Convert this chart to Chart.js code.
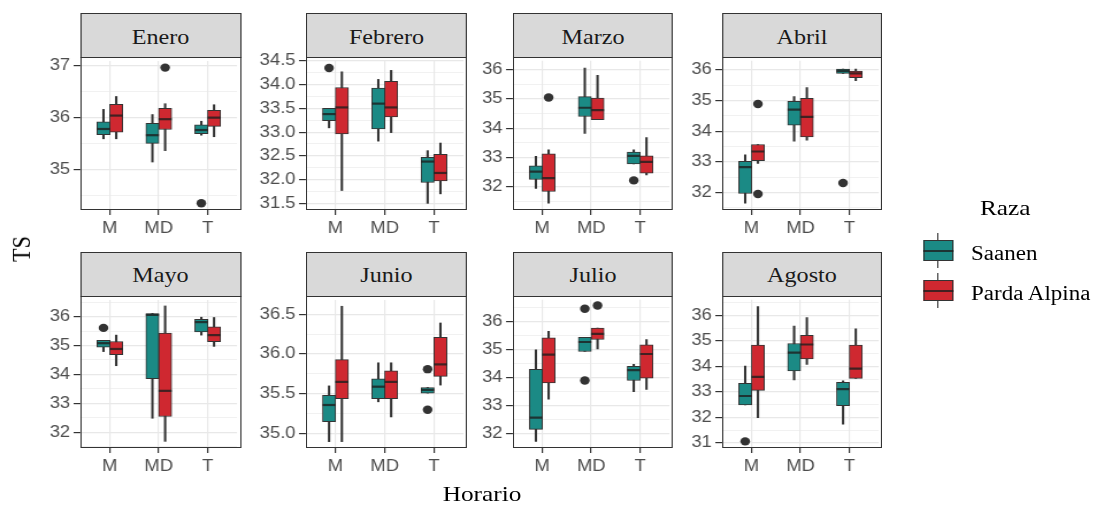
<!DOCTYPE html>
<html>
<head>
<meta charset="utf-8">
<script src="https://cdn.jsdelivr.net/npm/chart.js@4.4.0/dist/chart.umd.min.js"></script>
<style>
html,body{margin:0;padding:0;background:#fff;overflow:hidden;width:1095px;height:506px;}
#wrap{position:absolute;left:0;top:0;width:953px;height:506px;transform:scaleX(1.15);transform-origin:0 0;}
.strip{position:absolute;box-sizing:border-box;background:#d9d9d9;border:1px solid #333;}
.frame{position:absolute;box-sizing:border-box;border:1px solid #333;pointer-events:none;}
.txt{position:absolute;font-family:'Liberation Serif','Times New Roman',serif;color:#1a1a1a;white-space:nowrap;}
.blk{position:absolute;box-sizing:border-box;}
</style>
</head>
<body>
<div id="wrap"></div>
<script>
// ---------------- data ----------------
const categories = ['M', 'MD', 'T'];
const months = ['Enero', 'Febrero', 'Marzo', 'Abril', 'Mayo', 'Junio', 'Julio', 'Agosto'];
const seriesNames = ['Saanen', 'Parda Alpina'];

const yMin = [34.21, 31.36, 31.21, 31.43, 31.45, 34.82, 31.47, 30.80];
const yMax = [37.10, 34.50, 36.30, 36.30, 36.58, 36.68, 36.78, 36.61];
const yTicks = [
  [35, 36, 37],
  [31.5, 32, 32.5, 33, 33.5, 34, 34.5],
  [32, 33, 34, 35, 36],
  [32, 33, 34, 35, 36],
  [32, 33, 34, 35, 36],
  [35, 35.5, 36, 36.5],
  [32, 33, 34, 35, 36],
  [31, 32, 33, 34, 35, 36]
];
const tickDecimals = [0, 1, 0, 0, 0, 1, 0, 0];

// Saanen: per month, per horario (M, MD, T)
const saanenLow = [
  [35.59, 35.14, 35.66], [33.09, 32.81, 31.50], [31.95, 33.82, 32.78], [31.65, 33.68, 35.89],
  [34.79, 32.48, 35.36], [34.90, 35.40, 35.51], [31.71, 34.93, 33.49], [32.49, 33.47, 31.73]
];
const saanenQ1 = [
  [35.67, 35.50, 35.69], [33.24, 33.07, 31.94], [32.25, 34.40, 32.78], [31.97, 34.20, 35.89],
  [34.94, 33.85, 35.47], [35.15, 35.44, 35.51], [32.14, 34.93, 33.89], [32.49, 33.82, 32.46]
];
const saanenMedian = [
  [35.78, 35.66, 35.76], [33.38, 33.60, 32.38], [32.52, 34.70, 33.06], [32.83, 34.71, 35.97],
  [35.08, 36.06, 35.81], [35.36, 35.59, 35.55], [32.56, 35.27, 34.26], [32.84, 34.54, 33.11]
];
const saanenQ3 = [
  [35.92, 35.89, 35.86], [33.50, 33.93, 32.47], [32.72, 35.08, 33.19], [33.02, 34.98, 36.03],
  [35.18, 36.11, 35.91], [35.48, 35.69, 35.58], [34.29, 35.44, 34.40], [33.34, 34.90, 33.38]
];
const saanenHigh = [
  [36.16, 36.06, 35.93], [33.50, 34.11, 32.61], [33.04, 36.05, 33.26], [33.23, 35.13, 36.03],
  [35.18, 36.11, 35.98], [35.60, 35.89, 35.58], [34.99, 35.44, 34.47], [34.01, 35.58, 33.43]
];
// Parda Alpina
const pardaLow = [
  [35.59, 35.36, 35.63], [31.77, 32.99, 31.70], [31.44, 34.29, 32.41], [32.95, 33.71, 35.65],
  [34.30, 31.68, 34.97], [34.90, 35.21, 35.61], [33.22, 35.02, 33.57], [31.99, 34.08, 33.53]
];
const pardaQ1 = [
  [35.72, 35.77, 35.83], [32.96, 33.32, 31.97], [31.84, 34.29, 32.47], [33.04, 33.82, 35.75],
  [34.68, 32.54, 35.13], [35.44, 35.44, 35.72], [33.80, 35.36, 33.97], [33.06, 34.29, 33.53]
];
const pardaMedian = [
  [36.04, 35.97, 36.00], [33.52, 33.52, 32.14], [32.30, 34.62, 32.85], [33.34, 34.47, 35.89],
  [34.88, 33.43, 35.36], [35.65, 35.65, 35.87], [34.82, 35.56, 34.84], [33.59, 34.86, 33.91]
];
const pardaQ3 = [
  [36.26, 36.18, 36.14], [33.94, 34.07, 32.53], [33.13, 35.03, 33.06], [33.57, 35.08, 35.97],
  [35.14, 35.43, 35.65], [35.93, 35.79, 36.21], [35.42, 35.77, 35.17], [34.84, 35.22, 34.84]
];
const pardaHigh = [
  [36.41, 36.27, 36.25], [34.27, 34.30, 32.77], [33.26, 35.81, 33.68], [33.57, 35.43, 36.03],
  [35.36, 36.37, 35.97], [36.60, 35.89, 36.39], [35.65, 35.77, 35.36], [36.35, 35.91, 35.47]
];
// outliers: [horario index (1..3), value]
const saanenOutliers = [
  [[3, 34.34]], [[1, 34.35]], [[3, 32.22]], [[3, 32.31]],
  [[1, 35.61]], [[3, 35.81], [3, 35.30]], [[2, 36.46], [2, 33.89]], [[1, 31.06]]
];
const pardaOutliers = [
  [[2, 36.97]], [], [[1, 35.05]], [[1, 34.89], [1, 31.95]],
  [], [], [[2, 36.58]], []
];

// ---------------- layout / style ----------------
const SX = 1.15;
const panelLeft = [80, 306, 513, 722];
const panelRight = [241, 467, 673, 882];
const rowTop = [57, 296];
const rowBottom = [210, 448];
const stripTop = [13, 252];
const stripBaseline = [44.3, 282.4];
const COL_S = '#1b8a85';
const COL_P = '#cf2830';
const LINE = '#333333';
const MEDIAN = 'rgba(30,30,30,0.8)';
const GRID = '#e8e8e8';
const TICKTXT = '#4d4d4d';
const DODGE = 0.13, BOXW = 0.26;

Chart.defaults.font.family = "'Liberation Sans', Arial, sans-serif";
const wrap = document.getElementById('wrap');

function add(cls, css, text) {
  const d = document.createElement('div');
  d.className = cls;
  Object.assign(d.style, css);
  if (text !== undefined) d.textContent = text;
  wrap.appendChild(d);
  return d;
}

months.forEach((month, i) => {
  const col = i % 4, row = Math.floor(i / 4);
  const L = panelLeft[col] / SX, R = panelRight[col] / SX;
  const T = rowTop[row], B = rowBottom[row];
  const pw = R - L;
  const YW = 52, XH = 32, PT = 4;
  const cw = Math.ceil(pw + YW + 4);
  const PR = cw - YW - pw;
  const ch = Math.round(B - T + PT + XH);

  const canvas = document.createElement('canvas');
  canvas.width = cw; canvas.height = ch;
  canvas.style.position = 'absolute';
  canvas.style.left = (L - YW) + 'px';
  canvas.style.top = (T - PT) + 'px';
  wrap.appendChild(canvas);

  const unitPx = pw / 3.2;
  const boxPx = BOXW * unitPx;

  const majors = yTicks[i];
  const step = majors[1] - majors[0];
  const allTicks = [];
  for (let v = majors[0] - step / 2; v <= yMax[i] + 1e-9; v += step / 2) {
    if (v >= yMin[i] - 1e-9) allTicks.push(Math.round(v * 1000) / 1000);
  }
  const isMajor = v => majors.some(m => Math.abs(m - v) < 1e-6);

  const pair = (a, b, off) => categories.map((c, j) => ({ x: j + 1 + off, y: [a[i][j], b[i][j]] }));
  const medPts = categories.map((c, j) => ({ x: j + 1 - DODGE, y: saanenMedian[i][j] }))
    .concat(categories.map((c, j) => ({ x: j + 1 + DODGE, y: pardaMedian[i][j] })));
  const outPts = saanenOutliers[i].map(o => ({ x: o[0] - DODGE, y: o[1] }))
    .concat(pardaOutliers[i].map(o => ({ x: o[0] + DODGE, y: o[1] })));

  new Chart(canvas, {
    type: 'bar',
    data: {
      datasets: [
        { type: 'bar', label: 'w1', data: pair(saanenLow, saanenHigh, -DODGE), backgroundColor: LINE,
          borderWidth: 0, barThickness: 1.4, grouped: false, order: 3 },
        { type: 'bar', label: 'w2', data: pair(pardaLow, pardaHigh, DODGE), backgroundColor: LINE,
          borderWidth: 0, barThickness: 1.4, grouped: false, order: 3 },
        { type: 'bar', label: seriesNames[0], data: pair(saanenQ1, saanenQ3, -DODGE), backgroundColor: COL_S,
          borderColor: LINE, borderWidth: 1, borderSkipped: false, barThickness: boxPx, grouped: false, order: 2 },
        { type: 'bar', label: seriesNames[1], data: pair(pardaQ1, pardaQ3, DODGE), backgroundColor: COL_P,
          borderColor: LINE, borderWidth: 1, borderSkipped: false, barThickness: boxPx, grouped: false, order: 2 },
        { type: 'scatter', label: 'median', data: medPts, pointStyle: 'line', pointRadius: boxPx / 2,
          borderColor: MEDIAN, borderWidth: 2.2, order: 1 },
        { type: 'scatter', label: 'outliers', data: outPts, pointStyle: 'circle', pointRadius: 4.2,
          backgroundColor: LINE, borderColor: LINE, borderWidth: 0, order: 0 }
      ]
    },
    options: {
      responsive: false,
      animation: false,
      events: [],
      layout: { padding: { top: PT, right: PR, left: 0, bottom: 0 } },
      plugins: { legend: { display: false }, tooltip: { enabled: false }, title: { display: false } },
      scales: {
        x: {
          type: 'linear', min: 0.4, max: 3.6, offset: false,
          afterBuildTicks: ax => { ax.ticks = categories.map((c, j) => ({ value: j + 1 })); },
          afterFit: s => { s.height = XH; s.paddingLeft = 0; s.paddingRight = 0; },
          ticks: { autoSkip: false, maxRotation: 0, padding: 4, color: TICKTXT,
                   font: { size: 16 }, callback: v => categories[Math.round(v) - 1] },
          grid: { offset: false, color: GRID, lineWidth: 1.2, drawTicks: true, tickLength: 5,
                  tickColor: LINE, tickWidth: 1.2 },
          border: { display: false }
        },
        y: {
          type: 'linear', min: yMin[i], max: yMax[i], beginAtZero: false,
          afterBuildTicks: ax => { ax.ticks = allTicks.map(v => ({ value: v })); },
          afterFit: s => { s.width = YW; s.paddingTop = 0; s.paddingBottom = 0; },
          ticks: { autoSkip: false, padding: 3, color: TICKTXT, font: { size: 16 },
                   callback: v => isMajor(v) ? v.toFixed(tickDecimals[i]) : '' },
          grid: { color: GRID,
                  lineWidth: c => (c.tick && isMajor(c.tick.value)) ? 1.2 : 0.6,
                  drawTicks: true, tickLength: 6,
                  tickColor: c => (c.tick && isMajor(c.tick.value)) ? LINE : 'rgba(0,0,0,0)',
                  tickWidth: 1.2 },
          border: { display: false }
        }
      }
    }
  });

  add('frame', { left: L + 'px', top: T + 'px', width: pw + 'px', height: (B - T) + 'px' });
  add('strip', { left: L + 'px', top: stripTop[row] + 'px', width: pw + 'px', height: (T - stripTop[row] + 1) + 'px' });
  add('txt', { left: L + 'px', width: pw + 'px', textAlign: 'center', fontSize: '21px', lineHeight: '21px',
               top: (stripBaseline[row] - 0.8375 * 21) + 'px' }, month);
});

// axis titles
add('txt', { left: (482 / SX - 150) + 'px', width: '300px', textAlign: 'center', fontSize: '22px',
             lineHeight: '22px', top: (501.7 - 0.8375 * 22) + 'px', color: '#000' }, 'Horario');
add('txt', { left: (22 / SX) + 'px', top: '249px', fontSize: '22px', lineHeight: '22px', color: '#000',
             transform: 'translate(-50%,-50%) rotate(-90deg)' }, 'TS');

// legend
add('txt', { left: (980 / SX) + 'px', top: (215 - 0.8375 * 22) + 'px', fontSize: '22px', lineHeight: '22px', color: '#000' }, 'Raza');
const keyTops = [240, 280];
const keyCols = [COL_S, COL_P];
seriesNames.forEach((name, k) => {
  const kt = keyTops[k];
  add('blk', { left: (938 / SX - 0.8) + 'px', top: (kt - 7) + 'px', width: '1.6px', height: '35px', background: LINE });
  add('blk', { left: (923 / SX) + 'px', top: kt + 'px', width: (30 / SX) + 'px', height: '21px',
               background: keyCols[k], border: '1px solid ' + LINE });
  add('blk', { left: (923 / SX) + 'px', top: (kt + 9.5) + 'px', width: (30 / SX) + 'px', height: '2px', background: MEDIAN });
  add('txt', { left: (971 / SX) + 'px', top: (kt + 19.3 - 0.8375 * 20) + 'px', fontSize: '20px', lineHeight: '20px', color: '#000' }, name);
});
</script>
</body>
</html>
